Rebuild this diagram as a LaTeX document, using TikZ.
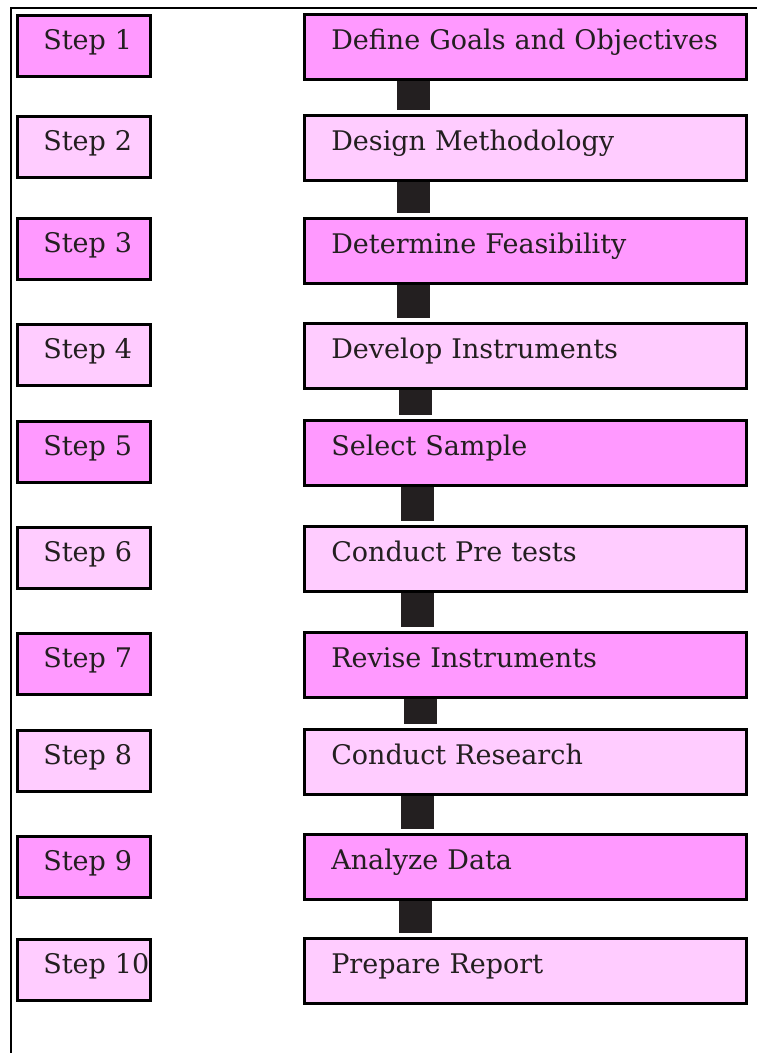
\documentclass[tikz,border=0pt]{standalone}
\usepackage{fontspec}
\usepackage{xcolor}
\newfontfamily\boxfont{DejaVu Serif}
\definecolor{pinkdark}{HTML}{FF99FF}
\definecolor{pinklight}{HTML}{FFCCFF}
\definecolor{inkdark}{HTML}{231F20}
\tikzset{
	stepbox/.style={draw=black, line width=2.6pt, anchor=north west, inner ysep=0pt, inner xsep=26pt, text width=81pt, align=left, text height=34pt, text depth=27pt, font=\boxfont\fontsize{27pt}{31pt}\selectfont, text=inkdark},
	taskbox/.style={stepbox, inner xsep=27pt, text width=388pt, text height=35pt, text depth=30pt},
	dark/.style={fill=pinkdark},
	light/.style={fill=pinklight},
	bar/.style={draw=inkdark, line width=33pt, shorten >=4pt}
}

\begin{document}
\begin{tikzpicture}[x=1pt, y=-1pt]
				\useasboundingbox (0,0) rectangle (757,1053);
				\draw[line width=2.2pt] (11,1053) -- (11,8) -- (757,8);
		
				\node[stepbox, dark] (step1) at (16,14) {Step~1};
				\node[stepbox, light] (step2) at (16,115) {Step~2};
				\node[stepbox, dark] (step3) at (16,217) {Step~3};
				\node[stepbox, light] (step4) at (16,323) {Step~4};
				\node[stepbox, dark] (step5) at (16,420) {Step~5};
				\node[stepbox, light] (step6) at (16,526) {Step~6};
				\node[stepbox, dark] (step7) at (16,632) {Step~7};
				\node[stepbox, light] (step8) at (16,729) {Step~8};
				\node[stepbox, dark] (step9) at (16,835) {Step~9};
				\node[stepbox, light] (step10) at (16,938) {Step~10};
		
				\node[taskbox, dark] (task1) at (303,13) {Define Goals and Objectives};
				\node[taskbox, light] (task2) at (303,114) {Design Methodology};
				\node[taskbox, dark] (task3) at (303,217) {Determine Feasibility};
				\node[taskbox, light] (task4) at (303,322) {Develop Instruments};
				\node[taskbox, dark] (task5) at (303,419) {Select Sample};
				\node[taskbox, light] (task6) at (303,525) {Conduct Pre tests};
				\node[taskbox, dark] (task7) at (303,631) {Revise Instruments};
				\node[taskbox, light] (task8) at (303,728) {Conduct Research};
				\node[taskbox, dark] (task9) at (303,833) {Analyze Data};
				\node[taskbox, light] (task10) at (303,937) {Prepare Report};
		
				\draw[bar] ([xshift=110pt]task1.south west) -- ([xshift=110pt]task2.north west);
				\draw[bar] ([xshift=110pt]task2.south west) -- ([xshift=110pt]task3.north west);
				\draw[bar] ([xshift=110pt]task3.south west) -- ([xshift=110pt]task4.north west);
				\draw[bar] ([xshift=112pt]task4.south west) -- ([xshift=112pt]task5.north west);
				\draw[bar] ([xshift=114pt]task5.south west) -- ([xshift=114pt]task6.north west);
				\draw[bar] ([xshift=114pt]task6.south west) -- ([xshift=114pt]task7.north west);
				\draw[bar] ([xshift=117pt]task7.south west) -- ([xshift=117pt]task8.north west);
				\draw[bar] ([xshift=114pt]task8.south west) -- ([xshift=114pt]task9.north west);
				\draw[bar] ([xshift=112pt]task9.south west) -- ([xshift=112pt]task10.north west);
			\end{tikzpicture}
\end{document}
